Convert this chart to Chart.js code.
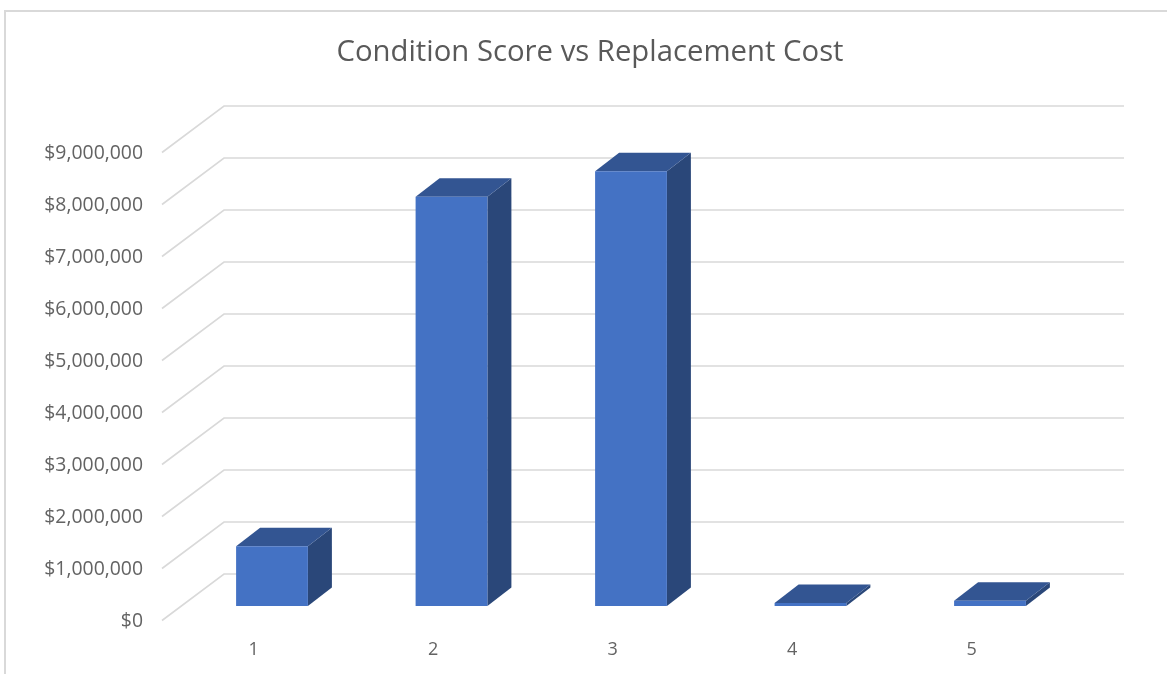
<!DOCTYPE html>
<html>
<head>
<meta charset="utf-8">
<style>html,body{margin:0;padding:0;background:#fff}canvas{display:block}</style>
<script src="https://cdn.jsdelivr.net/npm/chart.js@4/dist/chart.umd.min.js"></script>
</head>
<body>
<canvas id="c" width="1167" height="674"></canvas>
<script>
const categories = ['1','2','3','4','5'];
const replacementCost = [1150000, 7870000, 8360000, 60000, 100000];
const yTickLabels = ['$0','$1,000,000','$2,000,000','$3,000,000','$4,000,000','$5,000,000','$6,000,000','$7,000,000','$8,000,000','$9,000,000'];
const chartTitle = 'Condition Score vs Replacement Cost';

const FONT = '"Open Sans", sans-serif';
const TEXT = '#595959', TICK = '#636363', GRID = '#d9d9d9';
const FRONT = '#4472c4', SIDE = '#2a4779', TOP = '#335592';
// 3D projection offsets
const BAR_SHIFT_X = -41.75, BAR_SHIFT_Y = 32, DEPTH_X = 24, DEPTH_Y = 18.5;
const WALL_X = 62, WALL_Y = 46.5;

const threeD = {
  id: 'threeD',
  beforeDraw(chart) {
    const c = chart.ctx;
    c.save();
    c.strokeStyle = GRID; c.lineWidth = 2;
    c.beginPath(); c.moveTo(5, 674); c.lineTo(5, 11); c.lineTo(1167, 11); c.stroke();
    c.restore();
  },
  beforeDatasetsDraw(chart) {
    const c = chart.ctx, y = chart.scales.y, a = chart.chartArea;
    c.save();
    c.strokeStyle = GRID; c.lineWidth = 1.6;
    y.ticks.forEach(t => {
      const py = y.getPixelForValue(t.value);
      c.beginPath();
      c.moveTo(a.left - WALL_X, py + WALL_Y);
      c.lineTo(a.left, py);
      c.lineTo(a.right + 2.5, py);
      c.stroke();
    });
    c.restore();
    c.save();
    c.translate(BAR_SHIFT_X, BAR_SHIFT_Y);
    chart.getDatasetMeta(0).data.forEach(b => {
      const l = b.x - b.width / 2, r = b.x + b.width / 2, t = b.y, bt = b.base;
      c.fillStyle = SIDE;
      c.beginPath(); c.moveTo(r, t); c.lineTo(r + DEPTH_X, t - DEPTH_Y); c.lineTo(r + DEPTH_X, bt - DEPTH_Y); c.lineTo(r, bt); c.closePath(); c.fill();
      c.fillStyle = TOP;
      c.beginPath(); c.moveTo(l, t); c.lineTo(l + DEPTH_X, t - DEPTH_Y); c.lineTo(r + DEPTH_X, t - DEPTH_Y); c.lineTo(r, t); c.closePath(); c.fill();
    });
  },
  afterDatasetsDraw(chart) { chart.ctx.restore(); }
};

new Chart(document.getElementById('c'), {
  type: 'bar',
  data: { labels: categories, datasets: [{ label: 'Replacement Cost', data: replacementCost, backgroundColor: FRONT, barPercentage: 0.4, categoryPercentage: 1, clip: false, yAxisID: 'y' }] },
  plugins: [threeD],
  options: {
    responsive: false, animation: false,
    layout: { padding: { left: 13, right: 0, top: 0, bottom: 0 } },
    plugins: {
      legend: { display: false }, tooltip: { enabled: false },
      title: { display: true, text: chartTitle, color: TEXT, font: { family: FONT, size: 29.3, weight: 'normal', lineHeight: 1.2 }, padding: { top: 35.2, bottom: 35.64 } }
    },
    scales: {
      x: {
        grid: { display: false, drawTicks: false }, border: { display: false },
        ticks: { color: TICK, font: { family: FONT, size: 18 }, padding: 65, labelOffset: -60, maxRotation: 0, autoSkip: false },
        afterFit(s) { s.height = 100; }
      },
      y: {
        min: 0, max: 9000000,
        grid: { display: false, drawTicks: false }, border: { display: false },
        ticks: { color: TICK, font: { family: FONT, size: 19.4 }, padding: 81, labelOffset: 47.5, stepSize: 1000000, autoSkip: false,
          callback: (v, i) => yTickLabels[i] },
        afterFit(s) { s.width = 211; }
      },
      rightGutter: {
        position: 'right', min: 0, max: 1,
        grid: { display: false, drawTicks: false }, border: { display: false },
        ticks: { display: false },
        afterFit(s) { s.width = 45.5; }
      }
    }
  }
});
</script>
</body>
</html>
